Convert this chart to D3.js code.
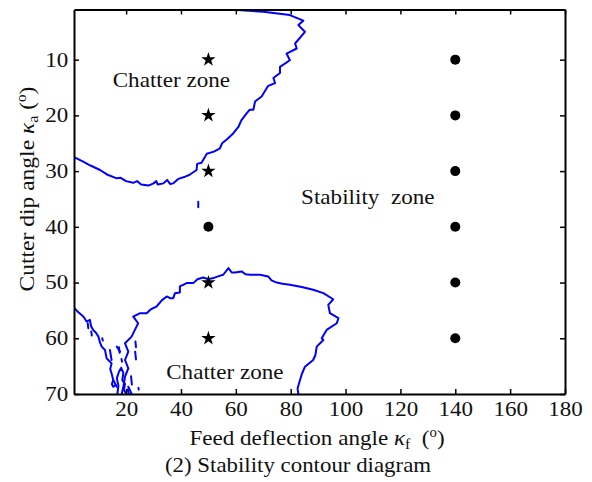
<!DOCTYPE html>
<html>
<head>
<meta charset="utf-8">
<script src="https://cdn.jsdelivr.net/npm/d3@7"></script>
<style>
  body { margin: 0; background: #fff; }
  svg text { font-family: "Liberation Serif", Tinos, "Times New Roman", Times, serif; fill: #111; }
</style>
</head>
<body>
<div id="chart"></div>
<script>
// tick values
const xTicks = [20, 40, 60, 80, 100, 120, 140, 160, 180];
const yTicks = [10, 20, 30, 40, 50, 60, 70];

// test points: stars = chatter, dots = stable
const starPoints = [[50, 10], [50, 20], [50, 30], [50, 50], [50, 60]];
const dotPoints = [[50, 40], [140, 10], [140, 20], [140, 30], [140, 40], [140, 50], [140, 60]];

// stability boundary
const contourTop = [[1,27.5],[4,28.2],[7,29],[10.5,29.8],[13,30.6],[16.6,31.3],[18,31.2],[20,31.8],[22.6,32.1],[24,31.8],[25.5,32.4],[28.1,32.6],[30,32.2],[31,31.8],[31.5,32.4],[33.6,32.2],[35,31.6],[36,32.3],[37.2,32.2],[39,31.4],[41.5,31],[43,30.7],[45.7,29.8],[45.9,28.7],[47.5,28.5],[49.4,26.9],[52,26.5],[54.2,25.9],[55,25],[57,24.2],[59.1,23.2],[61,22],[62,20.9],[64,19.6],[65,19],[66.4,19],[67,17.5],[69.4,16.6],[71.8,14.7],[74.3,14.2],[73.7,13.3],[76.1,12.4],[76.1,11.3],[79.7,10.1],[78.5,8.9],[82.2,8],[81.6,7.1],[85.2,5],[82.8,3.8],[84.6,3],[79.7,2],[70,1.4],[62,1.15],[57.3,1]];
const contourBottom = [[18.4,70],[19,68.7],[19.6,66.9],[20.8,65.4],[19.6,63.9],[20.8,62.4],[19.6,60.9],[22,59.7],[23.2,58.5],[24.4,57.3],[22.6,56.1],[25.1,55.5],[27.5,55.5],[29,54.8],[31.1,54.3],[33,53.2],[34.8,52.5],[36,52.8],[37.2,52.8],[37.8,51.9],[39.6,51.8],[39.6,50.7],[42.1,50.1],[44.5,50.1],[46,49.4],[48.1,49.1],[50,49.4],[51.8,49.2],[53.5,48.9],[55.4,48.6],[57.3,47.4],[58.5,48.2],[59.7,48.2],[62.1,48],[63.5,48.5],[65.2,48.6],[68.8,48.6],[71.8,48.9],[73,49.6],[74.9,50],[77,50.2],[79.7,50.4],[84,50.8],[88.2,51.3],[91.9,51.9],[95.5,53],[93.7,54],[94.3,55.5],[97.4,56.4],[96.8,57.3],[93.1,58.5],[91.3,60],[91.9,60.3],[89.5,61.5],[89,63],[88.2,63.9],[85.2,65.1],[84,66.5],[83.4,67.5],[82.5,69],[82.8,70]];
const contourLeft = [[1,54.5],[2.5,55.3],[4.4,56.1],[5.6,57],[6.8,56.7],[7.2,57.8],[8,58.5],[9,59],[9.9,59.7],[10.5,60.8],[11.1,61.5],[12.3,62.1],[12.9,63.6],[13.5,63.9],[14.7,64.5],[14.2,65.5],[14.7,66.3],[15.3,67.5],[14.8,68.2],[15.3,68.7],[16.2,68.4]];
const contourInner = [[16.8,70],[17.2,68.5],[16.6,67.2],[17.4,66],[18.2,65.3],[19,66.2],[18.6,67.5],[19.6,68.2],[19.2,69.2],[20,70]];
const contourSpecks = [
  [[6.0,57.3],[6.2,58.2]], [[7.3,58.8],[7.5,59.5]], [[11.3,60.0],[11.5,60.4]],
  [[14.1,62.1],[14.7,63.9]], [[16.6,61.5],[17.8,62.4]], [[17.4,61.6],[17.6,62.6]],
  [[18.3,63.7],[18.5,64.2]], [[23.4,60.6],[23.6,61.6]], [[23.3,62.4],[23.6,63.8]],
  [[21.8,66.8],[22.1,68.3]], [[15.3,67.5],[16.6,68.7]], [[20.8,68.7],[22,70]],
  [[24.5,68.9],[24.6,69.2]], [[20.6,69.2],[21,70]], [[46.3,35.5],[46.3,36.5]]
];

const width = 592, height = 482;
const margin = { top: 9.5, right: 27, bottom: 88, left: 74 };
const innerW = width - margin.left - margin.right;
const innerH = height - margin.top - margin.bottom;
const serif = '"Liberation Serif", Tinos, "Times New Roman", Times, serif';

const svg = d3.select("#chart").append("svg")
  .attr("width", width)
  .attr("height", height)
  .attr("font-family", serif);

const g = svg.append("g")
  .attr("transform", `translate(${margin.left},${margin.top})`);

const x = d3.scaleLinear().domain([1, 180]).range([0, innerW]);
const y = d3.scaleLinear().domain([1, 70]).range([0, innerH]);

// clip contours to the box
svg.append("defs").append("clipPath").attr("id", "clip")
  .append("rect").attr("width", innerW).attr("height", innerH);

const line = d3.line().x(d => x(d[0])).y(d => y(d[1]));
const curves = g.append("g").attr("clip-path", "url(#clip)");
[contourTop, contourBottom, contourLeft, contourInner].concat(contourSpecks).forEach(c => {
  curves.append("path")
    .datum(c)
    .attr("d", line)
    .attr("fill", "none")
    .attr("stroke", "#0000ff")
    .attr("stroke-width", 2)
    .attr("stroke-linejoin", "round")
    .attr("stroke-linecap", "round");
});

// axes, ticks pointing inward
const tickLen = 5;
function styleAxis(sel) {
  sel.attr("font-family", serif).attr("font-size", 20);
  sel.select(".domain").attr("stroke", "#000").attr("stroke-width", 2);
  sel.selectAll(".tick line").attr("stroke", "#000").attr("stroke-width", 1.5);
  // the original glyphs are a bit wider than Times
  sel.selectAll(".tick text").attr("fill", "#222").attr("transform", "scale(1.15,1)");
}

g.append("g")
  .attr("transform", `translate(0,${innerH})`)
  .call(d3.axisBottom(x).tickValues(xTicks).tickSizeInner(-tickLen).tickSizeOuter(0).tickPadding(8))
  .call(styleAxis);

g.append("g")
  .call(d3.axisTop(x).tickValues(xTicks).tickSizeInner(-tickLen).tickSizeOuter(0).tickFormat(""))
  .call(styleAxis);

g.append("g")
  .call(d3.axisLeft(y).tickValues(yTicks).tickSizeInner(-tickLen).tickSizeOuter(0).tickPadding(5))
  .call(styleAxis);

g.append("g")
  .attr("transform", `translate(${innerW},0)`)
  .call(d3.axisRight(y).tickValues(yTicks).tickSizeInner(-tickLen).tickSizeOuter(0).tickFormat(""))
  .call(styleAxis);

// markers
g.selectAll(".star")
  .data(starPoints)
  .join("path")
  .attr("d", d3.symbol(d3.symbolStar, 64))
  .attr("transform", d => `translate(${x(d[0])},${y(d[1])})`)
  .attr("fill", "#000");

g.selectAll(".dot")
  .data(dotPoints)
  .join("circle")
  .attr("cx", d => x(d[0]))
  .attr("cy", d => y(d[1]))
  .attr("r", 5)
  .attr("fill", "#000");

// zone annotations
const zoneLabels = [
  { text: "Chatter zone", xv: 36.5, yv: 14.9 },
  { text: "Stability\u00a0 zone", xv: 108.1, yv: 35.9 },
  { text: "Chatter zone", xv: 56, yv: 67.3 }
];
g.selectAll(".zone")
  .data(zoneLabels)
  .join("text")
  .attr("transform", d => `translate(${x(d.xv)},${y(d.yv)}) scale(1.05,1)`)
  .attr("text-anchor", "middle")
  .attr("font-size", 22)
  .text(d => d.text);

// axis titles
const xt = svg.append("text")
  .attr("transform", "translate(317,445) scale(1.05,1)")
  .attr("text-anchor", "middle")
  .attr("font-size", 22);
xt.append("tspan").text("Feed deflection angle ");
xt.append("tspan").style("font-style", "italic").text("\u03ba");
xt.append("tspan").attr("dy", 4).attr("font-size", 15).text("f");
xt.append("tspan").attr("dy", -4).text("\u00a0 (");
xt.append("tspan").attr("dy", -8).attr("font-size", 14).text("o");
xt.append("tspan").attr("dy", 8).text(")");

const yt = svg.append("text")
  .attr("transform", "translate(34,189) rotate(-90) scale(1.07,1)")
  .attr("text-anchor", "middle")
  .attr("font-size", 22);
yt.append("tspan").text("Cutter dip angle ");
yt.append("tspan").style("font-style", "italic").text("\u03ba");
yt.append("tspan").attr("dy", 4).attr("font-size", 15).text("a");
yt.append("tspan").attr("dy", -4).text(" (");
yt.append("tspan").attr("dy", -8).attr("font-size", 14).text("o");
yt.append("tspan").attr("dy", 8).text(")");

svg.append("text")
  .attr("transform", "translate(298,472) scale(1.09,1)")
  .attr("text-anchor", "middle")
  .attr("font-size", 21)
  .text("(2) Stability contour diagram");
</script>
</body>
</html>
